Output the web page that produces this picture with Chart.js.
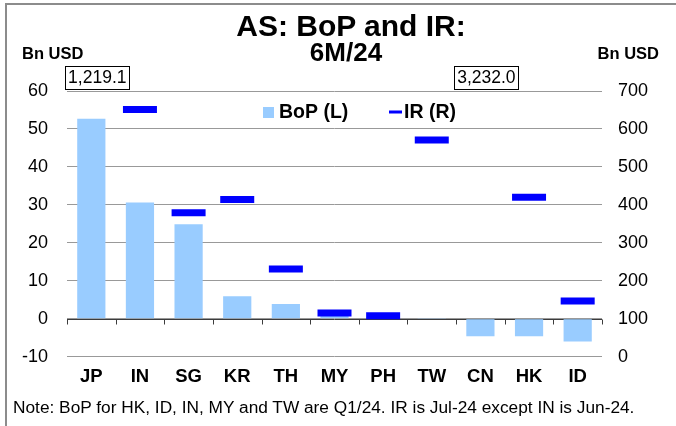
<!DOCTYPE html>
<html>
<head>
<meta charset="utf-8">
<script src="https://cdn.jsdelivr.net/npm/chart.js@4/dist/chart.umd.min.js"></script>
<style>
  html, body { margin: 0; padding: 0; background: #fff; }
  body { width: 676px; height: 426px; position: relative; overflow: hidden;
         font-family: "Liberation Sans", Arial, sans-serif; color: #000; }
  #frame { position: absolute; left: 5px; top: 3px; width: 700px; height: 500px;
           border: 2px solid #8c8c8c; box-sizing: border-box; }
  canvas { position: absolute; left: 0; top: 0; }
  .txt { position: absolute; white-space: nowrap; }
  #title { left: 0; width: 702px; text-align: center; top: 11px; font: bold 30px/30px "Liberation Sans", Arial, sans-serif; }
  #subtitle { left: 0; width: 692px; text-align: center; top: 39px; font: bold 26px/26px "Liberation Sans", Arial, sans-serif; }
  #unitL { left: 22px; top: 45px; font: bold 16.5px/16px "Liberation Sans", Arial, sans-serif; }
  #unitR { right: 17px; top: 45px; font: bold 16.5px/16px "Liberation Sans", Arial, sans-serif; }
  #note { left: 13px; top: 399px; font: 17.3px/16px "Liberation Sans", Arial, sans-serif; }
</style>
</head>
<body>
<div id="frame"></div>
<canvas id="c" width="676" height="426"></canvas>
<div class="txt" id="title">AS: BoP and IR:</div>
<div class="txt" id="subtitle">6M/24</div>
<div class="txt" id="unitL">Bn USD</div>
<div class="txt" id="unitR">Bn USD</div>
<div class="txt" id="note">Note: BoP for HK, ID, IN, MY and TW are Q1/24. IR is Jul-24 except IN is Jun-24.</div>
<script>
const categories = ["JP", "IN", "SG", "KR", "TH", "MY", "PH", "TW", "CN", "HK", "ID"];
// BoP, Bn USD (left axis)
const bop = [52.7, 30.6, 24.9, 5.9, 3.9, 0.8, 0.3, 0.2, -4.6, -4.6, -6.0];
// reserves, Bn USD (right axis); JP and CN run off the top
const ir = [1219.1, 651, 379, 414, 231, 115, 108, 571, 3232.0, 420, 147];

const FONT = "'Liberation Sans', Arial, sans-serif";
const BAR_COLOR = "#99ccff";
const IR_COLOR = "#0000ff";

const extras = {
  id: "extras",
  beforeDatasetsDraw(chart) {
    const { ctx, chartArea: a, scales } = chart;
    const y0 = Math.round(scales.y.getPixelForValue(0)) + 0.5;
    const step = (a.right - a.left) / categories.length;
    ctx.save();
    ctx.strokeStyle = "#3c3c3c";
    ctx.lineWidth = 1;
    ctx.beginPath();
    ctx.moveTo(a.left, y0);
    ctx.lineTo(a.right, y0);
    for (let i = 0; i <= categories.length; i++) {
      const px = Math.round(a.left + step * i) + 0.5;
      ctx.moveTo(px, y0);
      ctx.lineTo(px, y0 + 5);
    }
    ctx.stroke();
    ctx.restore();
  },
  afterDraw(chart) {
    const { ctx, chartArea: a, scales } = chart;
    ctx.save();
    // values that go past the right axis max get a boxed label
    ctx.font = "17.5px " + FONT;
    ctx.textBaseline = "middle";
    ctx.textAlign = "center";
    ir.forEach((v, i) => {
      if (v <= scales.y1.max) return;
      const txt = v.toLocaleString("en-US", { minimumFractionDigits: 1, maximumFractionDigits: 1 });
      const w = ctx.measureText(txt).width + 6;
      const cx = scales.x.getPixelForValue(i) + 6;
      const top = a.top - 25, h = 23;
      ctx.fillStyle = "#fff";
      ctx.fillRect(cx - w / 2, top, w, h);
      ctx.strokeStyle = "#000";
      ctx.lineWidth = 1;
      ctx.strokeRect(Math.round(cx - w / 2) + 0.5, top + 0.5, Math.round(w), h);
      ctx.fillStyle = "#000";
      ctx.fillText(txt, cx, top + h / 2 + 1);
    });

    // legend inside the plot
    const ly = a.top + 21;
    ctx.font = "bold 19.5px " + FONT;
    ctx.textAlign = "left";
    ctx.fillStyle = BAR_COLOR;
    ctx.fillRect(263, ly - 5, 11, 11);
    ctx.fillStyle = "#000";
    ctx.fillText("BoP (L)", 279, ly + 1);
    ctx.strokeStyle = IR_COLOR;
    ctx.lineWidth = 3;
    ctx.beginPath();
    ctx.moveTo(389, ly);
    ctx.lineTo(402, ly);
    ctx.stroke();
    ctx.fillText("IR (R)", 404, ly + 1);
    ctx.restore();
  }
};

new Chart(document.getElementById("c"), {
  data: {
    labels: categories,
    datasets: [
      {
        type: "line",
        label: "IR (R)",
        data: ir,
        yAxisID: "y1",
        showLine: false,
        pointStyle: "line",
        pointRadius: 17,
        pointBorderWidth: 7,
        pointBorderColor: IR_COLOR,
        pointBackgroundColor: IR_COLOR,
        borderColor: IR_COLOR
      },
      {
        type: "bar",
        label: "BoP (L)",
        data: bop,
        yAxisID: "y",
        backgroundColor: BAR_COLOR,
        borderWidth: 0,
        categoryPercentage: 1,
        barPercentage: 0.58
      }
    ]
  },
  options: {
    responsive: false,
    animation: false,
    events: [],
    layout: { padding: { top: 91, bottom: 34.3, left: 0, right: 0 } },
    plugins: {
      legend: { display: false },
      tooltip: { enabled: false }
    },
    scales: {
      x: {
        offset: true,
        grid: { display: false, drawTicks: false },
        border: { display: false },
        ticks: { color: "#000", padding: 9, font: { family: FONT, size: 18.5, weight: "bold" } },
        afterFit(s) { s.height = 35; }
      },
      y: {
        position: "left",
        min: -10,
        max: 60,
        ticks: { stepSize: 10, color: "#000", padding: 19, font: { family: FONT, size: 18 } },
        grid: { color: "#999", drawTicks: false },
        border: { display: false },
        afterFit(s) { s.width = 67; }
      },
      y1: {
        position: "right",
        min: 0,
        max: 700,
        ticks: { stepSize: 100, color: "#000", padding: 16, font: { family: FONT, size: 18 } },
        grid: { drawOnChartArea: false, drawTicks: false },
        border: { display: false },
        afterFit(s) { s.width = 74; }
      }
    }
  },
  plugins: [extras]
});
</script>
</body>
</html>
